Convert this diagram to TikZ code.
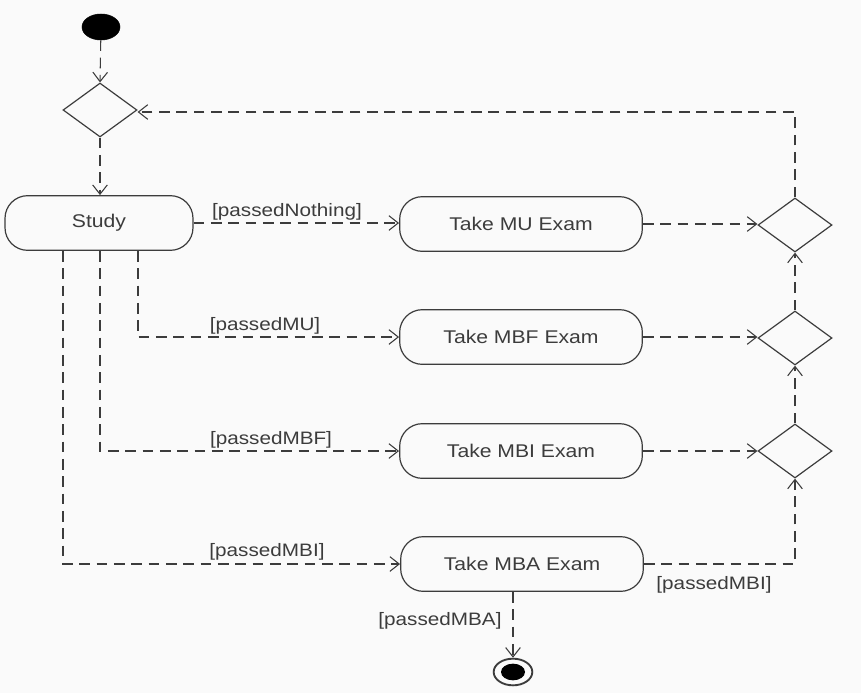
\documentclass[tikz,border=0pt]{standalone}
\usepackage{fontspec}
\usetikzlibrary{arrows.meta,shapes.geometric}
\newfontfamily\labfont[FakeStretch=1.15]{Liberation Sans}
\definecolor{ink}{RGB}{60,60,60}
\definecolor{bg}{RGB}{250,250,250}
\tikzset{
  act/.style={draw=ink, line width=0.9pt, rounded corners=17pt, minimum width=182pt, minimum height=41pt, inner sep=0pt, font=\labfont\fontsize{13.8}{15}\selectfont, text=ink},
  merge/.style={draw=ink, line width=0.9pt, diamond, minimum width=55.5pt, minimum height=40.5pt, inner sep=0pt},
  flow/.style={draw=ink, line width=0.8pt, dash pattern=on 8pt off 5pt, -{Straight Barb[length=7pt,width=11pt]}},
  guard/.style={font=\labfont\fontsize{13.5}{15}\selectfont, text=ink, inner sep=0pt},
}
\begin{document}
\begin{tikzpicture}[x=0.75pt,y=-0.75pt]
\fill[bg] (0,0) rectangle (861,693);
\useasboundingbox (0,0) rectangle (861,693);
% nodes
\node[draw=black, fill=black, ellipse, minimum width=28.5pt, minimum height=19.5pt, inner sep=0pt] (start) at (101,27) {};
\node[merge] (d0) at (100,110) {};
\node[act, minimum width=141pt] (study) at (99,223) {Study};
\node[act] (mu) at (521,224) {Take MU Exam};
\node[act] (mbf) at (521,337) {Take MBF Exam};
\node[act] (mbi) at (521,451) {Take MBI Exam};
\node[act] (mba) at (522,564) {Take MBA Exam};
\node[merge] (r1) at (795,225) {};
\node[merge] (r2) at (795,338) {};
\node[merge] (r3) at (795,451) {};
\node[draw=ink, line width=1.4pt, ellipse, minimum width=29pt, minimum height=20pt, inner sep=0pt] (fin) at (513,672) {};
\node[fill=black, ellipse, minimum width=18pt, minimum height=12.5pt, inner sep=0pt] (finin) at (fin.center) {};
% guards
\node[guard] (g1) at (287,212) {[passedNothing]};
\node[guard] (g2) at (265,326) {[passedMU]};
\node[guard] (g3) at (271,440) {[passedMBF]};
\node[guard] (g4) at (267,552) {[passedMBI]};
\node[guard] (g5) at (714,585) {[passedMBI]};
\node[guard] (g6) at (440,621) {[passedMBA]};
% flows
\draw[flow] (start) -- (d0.north);
\draw[flow] (d0.south) -- (d0.south |- study.north);
\draw[flow] (study.east) -- (study.east -| mu.west);
\draw[flow] ([xshift=29.25pt]study.south) |- (mbf.west);
\draw[flow] ([xshift=0.75pt]study.south) |- (mbi.west);
\draw[flow] ([xshift=-27pt]study.south) |- (mba.west);
\draw[flow] (mu.east) -- (mu.east -| r1.west);
\draw[flow] (mbf.east) -- (mbf.east -| r2.west);
\draw[flow] (mbi.east) -- (mbi.east -| r3.west);
\draw[flow] (r2.north) -- (r1.south);
\draw[flow] (r3.north) -- (r2.south);
\draw[flow] (mba.east) -| (r3.south);
\draw[flow] (r1.north) |- ([yshift=-1.5pt]d0.east);
\draw[flow] ([xshift=-6.75pt]mba.south) -- (fin.north);
\end{tikzpicture}
\end{document}
